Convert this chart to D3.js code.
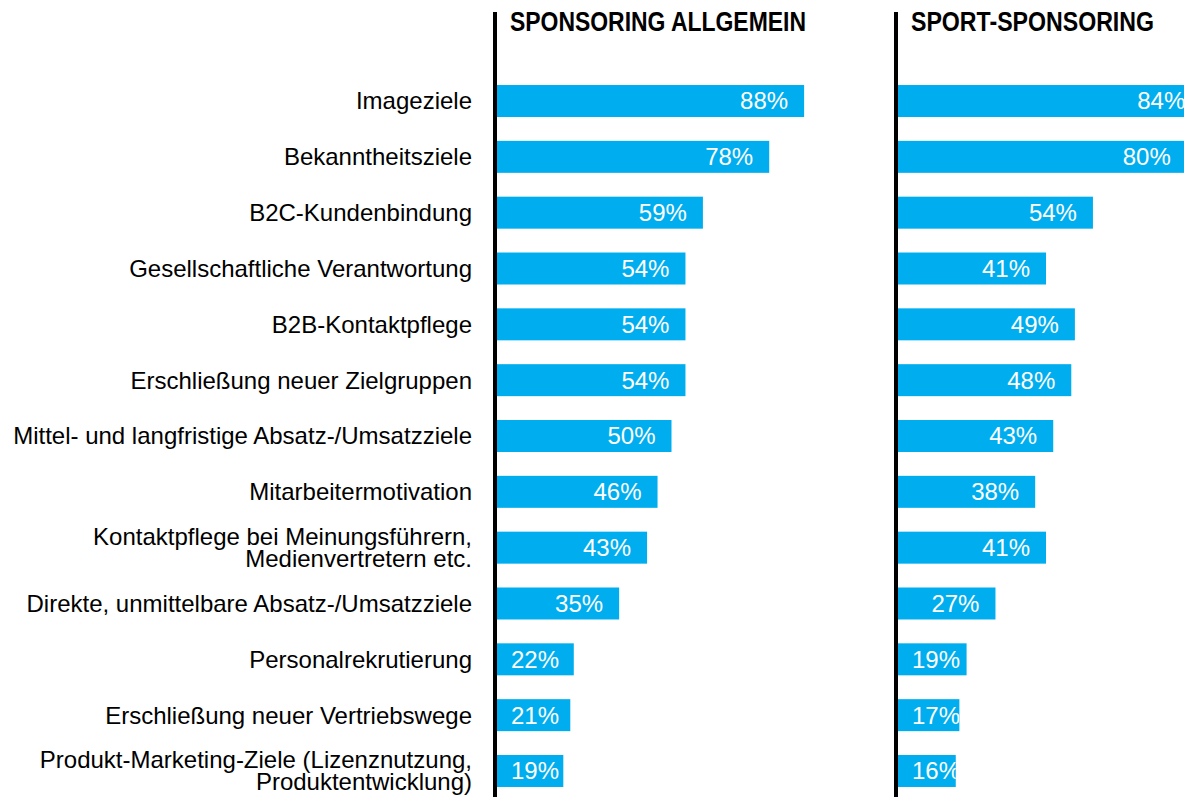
<!DOCTYPE html>
<html lang="de">
<head>
    <meta charset="UTF-8">
    <title>Sponsoring-Ziele</title>
    <script src="https://d3js.org/d3.v7.min.js"></script>
    <style>
        body { margin: 0; background: #fff; }
        svg { display: block; }
        .cat { font-family: "Liberation Sans", Arial, sans-serif; font-size: 24px; fill: #000; }
        .val { font-family: "Liberation Sans", Arial, sans-serif; font-size: 24px; fill: #fff; }
        .title { font-family: "Liberation Sans", Arial, sans-serif; font-weight: bold; font-size: 27px; fill: #000; }
    </style>
</head>
<body>
    <svg id="chart" width="1184" height="797"></svg>

    <script>
        // Data
        const categories = [
            "Imageziele",
            "Bekanntheitsziele",
            "B2C-Kundenbindung",
            "Gesellschaftliche Verantwortung",
            "B2B-Kontaktpflege",
            "Erschließung neuer Zielgruppen",
            "Mittel- und langfristige Absatz-/Umsatzziele",
            "Mitarbeitermotivation",
            "Kontaktpflege bei Meinungsführern,\nMedienvertretern etc.",
            "Direkte, unmittelbare Absatz-/Umsatzziele",
            "Personalrekrutierung",
            "Erschließung neuer Vertriebswege",
            "Produkt-Marketing-Ziele (Lizenznutzung,\nProduktentwicklung)"
        ];
        const allgemein = [88, 78, 59, 54, 54, 54, 50, 46, 43, 35, 22, 21, 19];
        const sport = [84, 80, 54, 41, 49, 48, 43, 38, 41, 27, 19, 17, 16];
        const panelTitles = ["SPONSORING ALLGEMEIN", "SPORT-SPONSORING"];

        const svg = d3.select("#chart");
        const barColor = "#00aeef";

        const y = d3.scaleBand()
            .domain(categories)
            .range([73.1, 798.9])
            .paddingInner(0.427)
            .paddingOuter(0.2135);

        // title width is squeezed to look like the narrow bold face of the original
        const panels = [
            { title: panelTitles[0], values: allgemein, lineX: 495, x0: 497, width: 349, titleW: 296 },
            { title: panelTitles[1], values: sport, lineX: 896, x0: 898, width: 361, titleW: 243 }
        ];

        // Category labels
        const labelX = 472;
        categories.forEach(c => {
            const lines = c.split("\n");
            const cy = y(c) + y.bandwidth() / 2;
            const t = svg.append("text")
                .attr("class", "cat")
                .attr("text-anchor", "end")
                .attr("x", labelX)
                .attr("y", cy + 8.4 - (lines.length - 1) * 11);
            lines.forEach((ln, i) => {
                t.append("tspan")
                    .attr("x", labelX)
                    .attr("dy", i === 0 ? 0 : 22)
                    .text(ln);
            });
        });

        const defs = svg.append("defs");

        panels.forEach((p, pi) => {
            const x = d3.scaleLinear().domain([0, 100]).range([p.x0, p.x0 + p.width]);
            const g = svg.append("g");

            g.selectAll("rect")
                .data(p.values)
                .join("rect")
                .attr("x", x(0))
                .attr("y", (d, i) => y(categories[i]))
                .attr("width", d => x(d) - x(0))
                .attr("height", y.bandwidth())
                .attr("fill", barColor);

            // clip each label to its bar
            p.values.forEach((d, i) => {
                defs.append("clipPath")
                    .attr("id", `clip-${pi}-${i}`)
                    .append("rect")
                    .attr("x", x(0))
                    .attr("y", y(categories[i]))
                    .attr("width", x(d) - x(0))
                    .attr("height", y.bandwidth());
            });

            g.selectAll("text.val")
                .data(p.values)
                .join("text")
                .attr("class", "val")
                .attr("text-anchor", "end")
                .attr("clip-path", (d, i) => `url(#clip-${pi}-${i})`)
                .attr("x", d => Math.max(x(d) - 16, x(0) + 62))
                .attr("y", (d, i) => y(categories[i]) + y.bandwidth() / 2 + 8.4)
                .text(d => d + "%");

            // vertical divider line
            svg.append("line")
                .attr("x1", p.lineX).attr("x2", p.lineX)
                .attr("y1", 12).attr("y2", 797)
                .attr("stroke", "#000")
                .attr("stroke-width", 4);

            svg.append("text")
                .attr("class", "title")
                .attr("x", p.lineX + 15)
                .attr("y", 31)
                .attr("textLength", p.titleW)
                .attr("lengthAdjust", "spacingAndGlyphs")
                .text(p.title);
        });
    </script>
</body>
</html>
